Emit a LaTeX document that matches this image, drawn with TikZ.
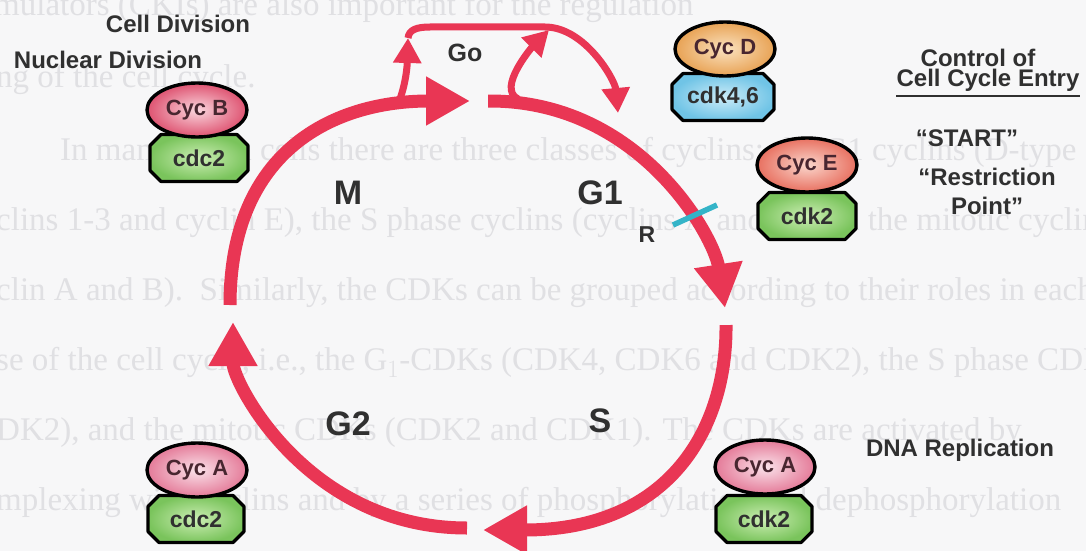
\documentclass[tikz,border=0pt]{standalone}
\usepackage{fontspec}
\setmainfont{Liberation Serif}
\newfontfamily\arialfont{Liberation Sans}
\usetikzlibrary{shapes.geometric,arrows.meta}

\definecolor{paper}{RGB}{247,247,248}
\definecolor{ghostgray}{RGB}{224,224,227}
\definecolor{cyclered}{RGB}{233,54,84}
\definecolor{ink}{RGB}{48,48,48}
\definecolor{cycink}{RGB}{72,38,48}
\definecolor{tickcyan}{RGB}{52,180,200}
\definecolor{pinkB}{RGB}{222,82,112}
\definecolor{pinkBin}{RGB}{250,214,222}
\definecolor{pinkA}{RGB}{228,122,152}
\definecolor{pinkAin}{RGB}{250,226,234}
\definecolor{orangeD}{RGB}{232,162,84}
\definecolor{orangeDin}{RGB}{250,226,192}
\definecolor{salmonE}{RGB}{232,112,96}
\definecolor{salmonEin}{RGB}{250,214,204}
\definecolor{cdkgreen}{RGB}{122,196,92}
\definecolor{cdkgreenin}{RGB}{204,238,180}
\definecolor{cdkblue}{RGB}{112,196,230}
\definecolor{cdkbluein}{RGB}{204,236,248}

% kinase subunit: chamfered (octagonal) box with its label node on top
% #1 name, #2 x, #3 y, #4 half width, #5 label, #6 colour
\newcommand\kinasebox[6]{%
  \shadedraw[shift={(#2,#3)}, draw=black, line width=3.2pt, line join=round,
    inner color=#6in, outer color=#6]
    (-#4+11,-23.5) -- (#4-11,-23.5) -- (#4,-12.5) -- (#4,12.5) -- (#4-11,23.5)
    -- (-#4+11,23.5) -- (-#4,12.5) -- (-#4,-12.5) -- cycle;
  \node[kinase] (#1) at (#2,#3) {#5};}

\begin{document}
\begin{tikzpicture}[x=1pt,y=-1pt,
  ghost/.style={anchor=base west, text=ghostgray, inner sep=0pt,
    font=\fontsize{33}{33}\selectfont},
  heading/.style={font=\arialfont\bfseries\fontsize{24}{29}\selectfont,
    text=ink, inner sep=0pt, align=center},
  phase/.style={font=\arialfont\bfseries\fontsize{34}{34}\selectfont,
    text=ink, inner sep=0pt},
  cycarc/.style={draw=cyclered, line width=13pt,
    -{Triangle[length=44pt,width=46pt]}},
  goarc/.style={draw=cyclered, line width=7pt},
  gotip/.style={-{Triangle[length=25pt,width=27pt]}},
  cyclin/.style={ellipse, draw=black, line width=3.4pt,
    minimum width=100pt, minimum height=54pt, inner sep=0pt,
    font=\arialfont\bfseries\fontsize{22}{22}\selectfont, text=cycink},
  kinase/.style={inner sep=0pt,
    font=\arialfont\bfseries\fontsize{23}{23}\selectfont, text=ink},
]
% page
\fill[paper] (0,0) rectangle (1086,551);
\useasboundingbox (0,0) rectangle (1086,551);

% printed text showing through from the page underneath
\node[ghost] (bg1) at (-6,16) {mulators (CKIs) are also important for the regulation};
\node[ghost] (bg2) at (-4,88) {ng of the cell cycle.};
\node[ghost] (bg3) at (60,160) {In mammalian cells there are three classes of cyclins: the G1 cyclins (D-type};
\node[ghost] (bg4) at (-4,230) {clins 1-3 and cyclin E), the S phase cyclins (cyclins A and E) and the mitotic cyclins};
\node[ghost] (bg5) at (-4,300) {clin A and B).\ \ Similarly, the CDKs can be grouped according to their roles in each};
\node[ghost] (bg6) at (-4,370) {se of the cell cycle, i.e., the G$_1$-CDKs (CDK4, CDK6 and CDK2), the S phase CDK};
\node[ghost] (bg7) at (-4,440) {DK2), and the mitotic CDKs (CDK2 and CDK1). The CDKs are activated by};
\node[ghost] (bg8) at (-4,510) {mplexing with cyclins and by a series of phosphorylation and dephosphorylation};

% ---- the cycle ----
\coordinate (m-from)  at (230,305);
\coordinate (m-to)    at (470,101);
\coordinate (g1-from) at (488,101);
\coordinate (g1-to)   at (725,308);
\coordinate (s-from)  at (726,325);
\coordinate (s-to)    at (483,530);
\coordinate (g2-from) at (467,528);
\coordinate (g2-to)   at (233,322);

\draw[cycarc] (m-from)  .. controls (230,148) and (337,101) .. (m-to);
\draw[cycarc] (g1-from) .. controls (640,100) and (714,237) .. (g1-to);
\draw[cycarc] (s-from)  .. controls (727,428) and (670,530) .. (s-to);
\draw[cycarc] (g2-from) .. controls (307,528) and (233,382) .. (g2-to);

% ---- quiescence loop (Go) ----
\coordinate (go-exit)  at (398,104);
\coordinate (go-top)   at (408,38);
\coordinate (go-back)  at (618,113);
\coordinate (g1-leave) at (518,99);
\coordinate (go-join)  at (549,30);

\draw[goarc,gotip] (go-exit) .. controls (404,90) and (407,72) .. (go-top);
\draw[goarc,gotip] (go-top) .. controls (409,30) and (416,27) .. (430,27)
  -- (545,27) .. controls (585,27) and (615,80) .. (go-back);
\draw[goarc,gotip] (g1-leave) .. controls (496,88) and (534,45) .. (go-join);

% restriction point mark
\coordinate (r-a) at (673,225);
\coordinate (r-b) at (717,205);
\draw[tickcyan, line width=5.5pt] (r-a) -- (r-b);

% ---- phase labels ----
\node[phase] (lM)  at (348,193) {M};
\node[phase] (lG1) at (600,193) {G1};
\node[phase] (lG2) at (348,424) {G2};
\node[phase] (lS)  at (600,421) {S};
\node[font=\arialfont\bfseries\fontsize{23}{23}\selectfont, text=ink, inner sep=0pt] (lR) at (647,235) {R};
\node[font=\arialfont\bfseries\fontsize{25}{25}\selectfont, text=ink, inner sep=0pt] (lGo) at (465,53) {Go};

% ---- cyclin / CDK complexes ----
\kinasebox{cdc2B}{199}{158}{49}{cdc2}{cdkgreen}
\node[cyclin, shade, inner color=pinkBin, outer color=pinkB] (cycB) at (197,110) {Cyc B};

\kinasebox{cdk46}{723}{97}{51}{cdk4,6}{cdkblue}
\node[cyclin, shade, inner color=orangeDin, outer color=orangeD] (cycD) at (725,49) {Cyc D};

\kinasebox{cdk2E}{807}{216}{49}{cdk2}{cdkgreen}
\node[cyclin, shade, inner color=salmonEin, outer color=salmonE] (cycE) at (807,165) {Cyc E};

\kinasebox{cdc2A}{196}{519}{48}{cdc2}{cdkgreen}
\node[cyclin, shade, inner color=pinkAin, outer color=pinkA] (cycA1) at (197,470) {Cyc A};

\kinasebox{cdk2A}{764}{519}{48}{cdk2}{cdkgreen}
\node[cyclin, shade, inner color=pinkAin, outer color=pinkA] (cycA2) at (765,467) {Cyc A};

% ---- side headings ----
\node[heading] (hCell)  at (178,24) {Cell Division};
\node[heading] (hNuc)   at (108,60) {Nuclear Division};
\node[heading] (hCtrl)  at (978,58) {Control of};
\node[heading] (hEntry) at (988,80) {Cell Cycle Entry};
\coordinate (ul) at (0,96);
\draw[ink, line width=2.4pt] (hEntry.west |- ul) -- (hEntry.east |- ul);
\node[heading] (hStart) at (967,138) {“START”};
\node[heading] (hRestr) at (987,191) {“Restriction\\ Point”};
\node[heading] (hDNA)   at (960,450) {DNA Replication};
\end{tikzpicture}
\end{document}
